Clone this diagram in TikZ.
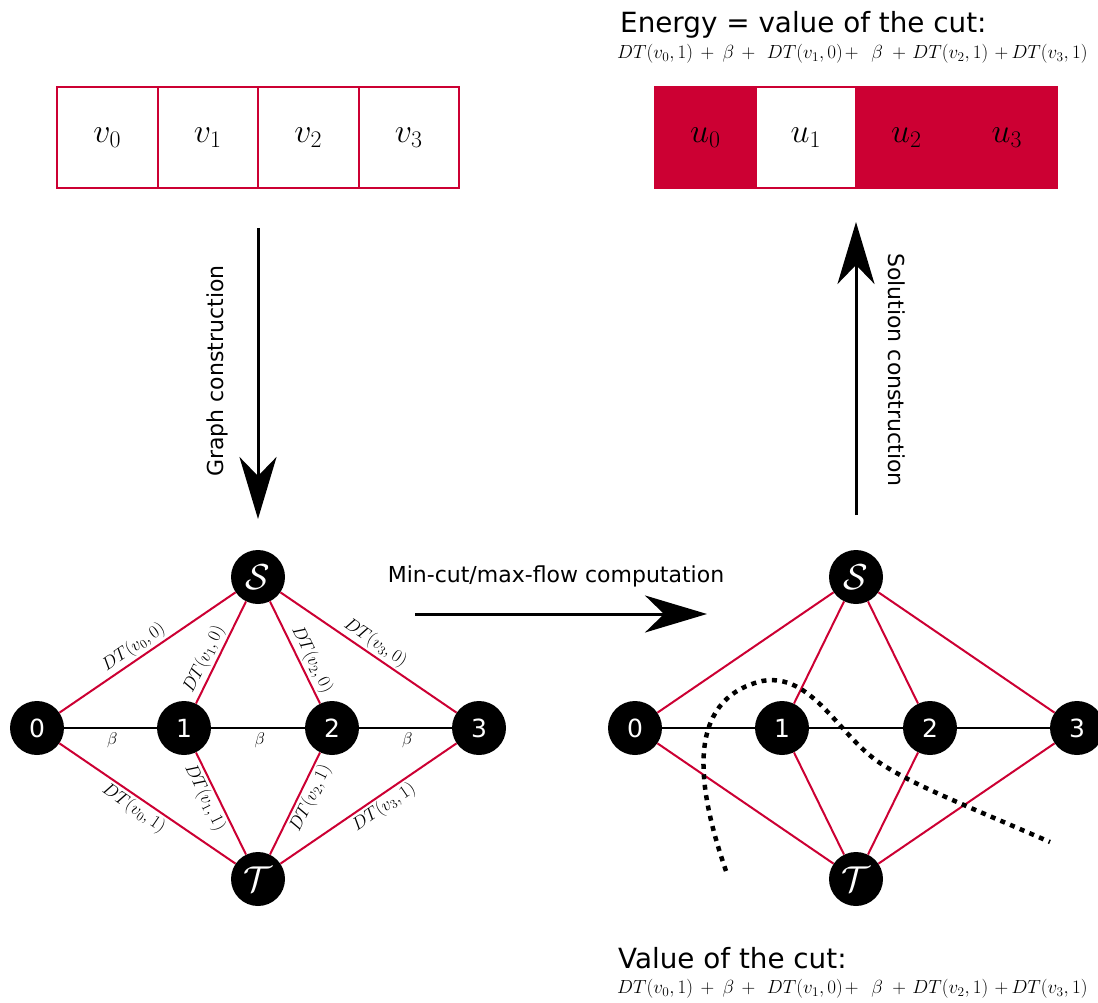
\RequirePackage{fix-cm}
\documentclass[tikz,border=0pt]{standalone}
\usepackage{fontspec}
\setsansfont{DejaVu Sans}
\usetikzlibrary{arrows.meta}
\definecolor{crim}{RGB}{204,0,51}
\newcommand{\cutsum}{$DT(v_0,1)\mkern7mu{+}\mkern8mu\beta\mkern7mu{+}\mkern11mu DT(v_1,0)\mkern2mu{+}\mkern12mu\beta\mkern9mu{+}\mkern6mu DT(v_2,1)\mkern6mu{+}\mkern3mu DT(v_3,1)$}
\begin{document}
\begin{tikzpicture}[x=1pt,y=-1pt,
  vert/.style={circle, fill=black, minimum size=54pt, inner sep=0pt, text=white, font=\sffamily\fontsize{25}{25}\selectfont},
  term/.style={vert, font=\fontsize{36}{36}\selectfont},
  redge/.style={draw=crim, line width=2pt},
  bedge/.style={draw=black, line width=2.5pt},
  elab/.style={font=\fontsize{18}{18}\selectfont, sloped, inner sep=2pt},
  blab/.style={font=\fontsize{17}{17}\selectfont, inner sep=3pt},
  cell/.style={draw=crim, line width=2pt, minimum width=100.5pt, minimum height=101pt, inner sep=0pt, font=\fontsize{34}{34}\selectfont},
  fcell/.style={cell, fill=crim},
  bigarrow/.style={line width=3pt, -{Stealth[length=62pt,width=37pt,inset=19pt]}},
  lbl/.style={font=\sffamily\fontsize{22}{26}\selectfont},
  title/.style={font=\sffamily\fontsize{27.8}{30}\selectfont, inner sep=0pt},
  formula/.style={font=\fontsize{19}{22}\selectfont, inner sep=0pt},
  cutline/.style={line width=4.5pt, dash pattern=on 5pt off 5.5pt},
]
\useasboundingbox (0,0) rectangle (1098,1003);

% input cells
\node[cell] (v0) at (107.25,137.5) {$v_0$};
\node[cell] (v1) at (207.75,137.5) {$v_1$};
\node[cell] (v2) at (308.25,137.5) {$v_2$};
\node[cell] (v3) at (408.75,137.5) {$v_3$};

% output cells
\node[fcell] (u0) at (705.25,137.5) {$u_0$};
\node[cell]  (u1) at (805.75,137.5) {$u_1$};
\node[fcell] (u2) at (906.25,137.5) {$u_2$};
\node[fcell] (u3) at (1006.75,137.5) {$u_3$};

% titles
\node[title, anchor=base west] (etitle) at (620,33) {Energy = value of the cut:};
\node[formula, anchor=west] (eform) at (617,54) {\cutsum};
\node[title, anchor=base west] (vtitle) at (618,968) {Value of the cut:};
\node[formula, anchor=west] (vform) at (617,989) {\cutsum};

% left graph
\node[vert] (a0) at (37,728) {0};
\node[vert] (a1) at (184,728) {1};
\node[vert] (a2) at (332,728) {2};
\node[vert] (a3) at (479,728) {3};
\node[term] (aS) at (258,577) {$\mathcal{S}$};
\node[term] (aT) at (258,879) {$\mathcal{T}$};

\draw[bedge] (a0) -- node[blab, pos=0.52, below] {$\beta$} (a1);
\draw[bedge] (a1) -- node[blab, pos=0.52, below] {$\beta$} (a2);
\draw[bedge] (a2) -- node[blab, pos=0.52, below] {$\beta$} (a3);

\draw[redge] (aS) -- node[elab, pos=0.54, above] {$DT(v_0,0)$} (a0);
\draw[redge] (a1) -- node[elab, pos=0.38, above] {$DT(v_1,0)$} (aS);
\draw[redge] (aS) -- node[elab, pos=0.62, above] {$DT(v_2,0)$} (a2);
\draw[redge] (aS) -- node[elab, pos=0.5, above] {$DT(v_3,0)$} (a3);
\draw[redge] (a0) -- node[elab, pos=0.46, below] {$DT(v_0,1)$} (aT);
\draw[redge] (a1) -- node[elab, pos=0.39, below] {$DT(v_1,1)$} (aT);
\draw[redge] (aT) -- node[elab, pos=0.6, below] {$DT(v_2,1)$} (a2);
\draw[redge] (aT) -- node[elab, pos=0.55, below] {$DT(v_3,1)$} (a3);

% right graph
\node[vert] (b0) at (635,728) {0};
\node[vert] (b1) at (782,728) {1};
\node[vert] (b2) at (930,728) {2};
\node[vert] (b3) at (1077,728) {3};
\node[term] (bS) at (856,577) {$\mathcal{S}$};
\node[term] (bT) at (856,879) {$\mathcal{T}$};

\draw[bedge] (b0) -- (b1);
\draw[bedge] (b1) -- (b2);
\draw[bedge] (b2) -- (b3);
\foreach \n in {b0,b1,b2,b3} {
  \draw[redge] (bS) -- (\n);
  \draw[redge] (bT) -- (\n);
}

% cut
\draw[cutline] (726,871) .. controls (698,790) and (683,700) .. (762,681)
  .. controls (812,672) and (838,735) .. (880,763)
  .. controls (915,786) and (965,805) .. (1050,842);

% process arrows
\coordinate (g1) at (258,228);
\coordinate (g2) at (258,519);
\draw[bigarrow] (g1) -- (g2);
\node[lbl, rotate=90] (glab) at (217,371) {Graph construction};

\coordinate (m1) at (415,614);
\coordinate (m2) at (707,614);
\draw[bigarrow] (m1) -- (m2);
\node[lbl] (mlab) at (556,576) {Min-cut/max-flow computation};

\coordinate (s1) at (856,515);
\coordinate (s2) at (856,222);
\draw[bigarrow] (s1) -- (s2);
\node[lbl, rotate=-90] (slab) at (897,370) {Solution construction};
\end{tikzpicture}
\end{document}
